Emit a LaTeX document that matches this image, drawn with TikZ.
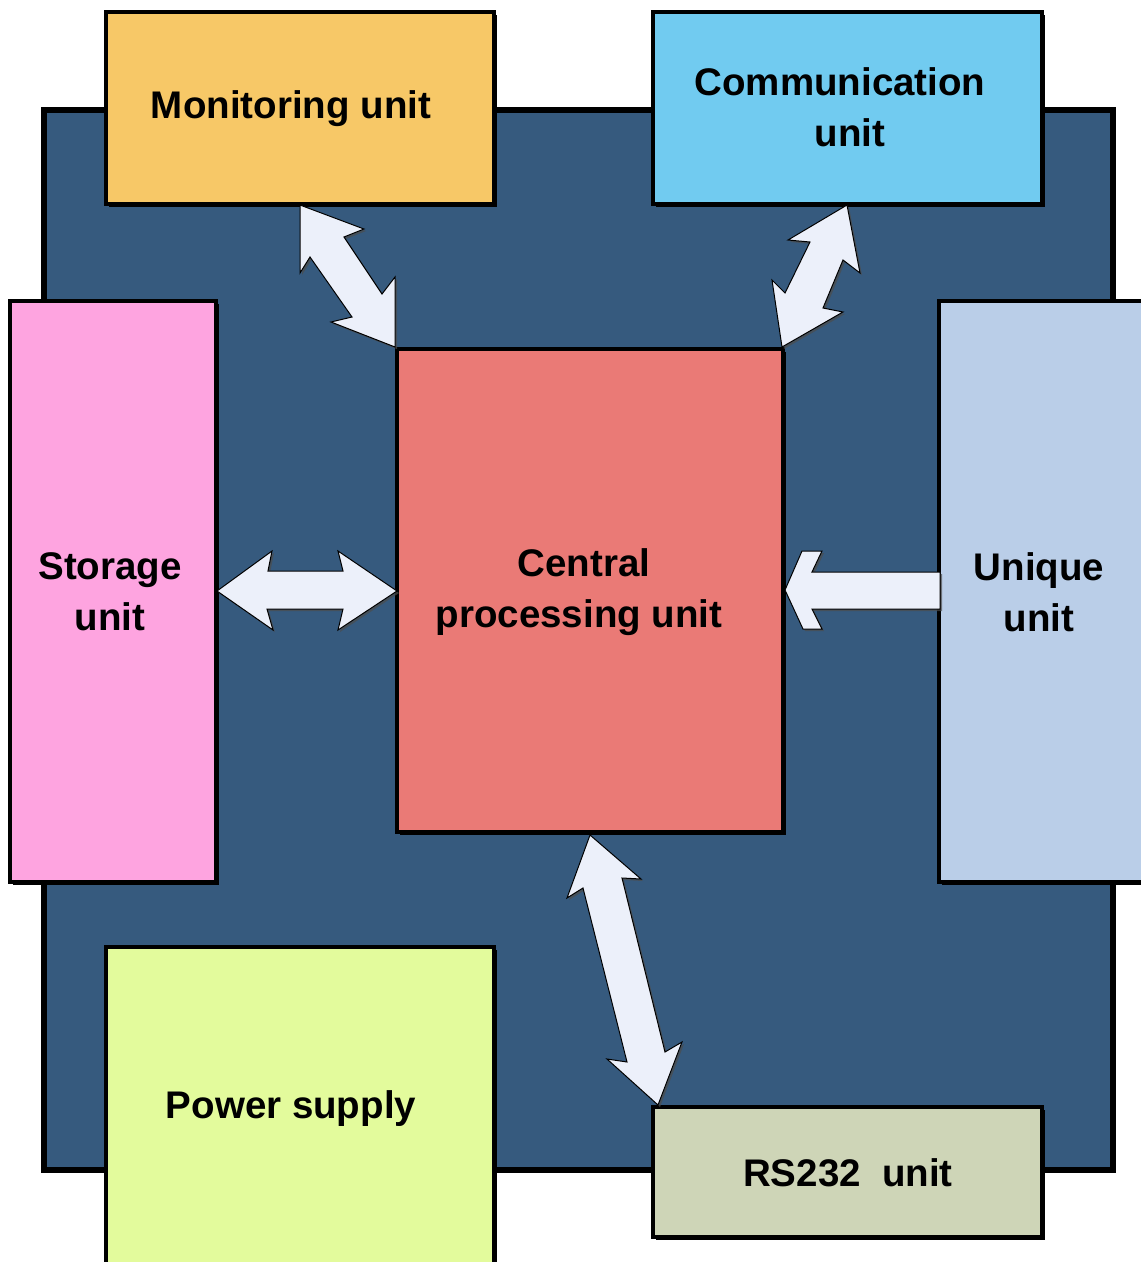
\documentclass[tikz,border=0pt]{standalone}
\usepackage{fontspec}
\setmainfont{Liberation Sans}
\usetikzlibrary{shadows}
\definecolor{bgblue}{HTML}{365A7E}
\definecolor{moncol}{HTML}{F7C867}
\definecolor{comcol}{HTML}{71CBF0}
\definecolor{stocol}{HTML}{FEA4E0}
\definecolor{cpucol}{HTML}{EA7A76}
\definecolor{unicol}{HTML}{BACEE8}
\definecolor{powcol}{HTML}{E3FB9C}
\definecolor{rscol}{HTML}{CED5B7}
\definecolor{arrcol}{HTML}{ECF0FA}
\begin{document}
\begin{tikzpicture}[x=1pt,y=-1pt,
  unitbox/.style={draw=black, line width=3.5pt, anchor=north west, inner sep=0pt, outer sep=0pt,
    drop shadow={shadow xshift=2.5pt, shadow yshift=-2.5pt, opacity=1, fill=black}},
  lbl/.style={font=\bfseries\fontsize{38.5}{51}\selectfont, align=center, inner sep=0pt, text=black},
  blockarrow/.style={fill=arrcol, draw=black, line width=1pt, line join=miter,
    drop shadow={shadow xshift=2pt, shadow yshift=-2pt, opacity=0.7, fill=black!70}}]
\clip (0,0) rectangle (1141,1262);
\fill[white] (0,0) rectangle (1141,1262);
% background panel
\node[draw=black, line width=6pt, fill=bgblue, anchor=north west, inner sep=0pt, outer sep=0pt,
  minimum width=1069pt, minimum height=1060pt] (panel) at (43.5,110) {};
% unit boxes
\node[unitbox, fill=moncol, minimum width=388pt, minimum height=192pt] (mon) at (106,12) {};
\node[unitbox, fill=comcol, minimum width=389pt, minimum height=192pt] (com) at (653,12) {};
\node[unitbox, fill=stocol, minimum width=206pt, minimum height=581pt] (sto) at (10,301) {};
\node[unitbox, fill=cpucol, minimum width=386pt, minimum height=483pt] (cpu) at (397,349) {};
\node[unitbox, fill=unicol, minimum width=220pt, minimum height=581pt] (uni) at (939,301) {};
\node[unitbox, fill=powcol, minimum width=388pt, minimum height=340pt] (pow) at (106,947) {};
\node[unitbox, fill=rscol, minimum width=389pt, minimum height=130pt] (rs) at (653,1107) {};
% labels
\node[lbl] (monl) at (291,109) {Monitoring unit};
\node[lbl] (coml) at (840,107) {Communication\\\hspace*{20pt}unit};
\node[lbl] (stol) at (110,592) {Storage\\unit};
\node[lbl] (cpul) at (579,592) {\hspace*{10pt}Central\\processing unit};
\node[lbl] (unil) at (1039,592) {Unique\\unit};
\node[lbl] (powl) at (291,1109) {Power supply};
\node[lbl] (rsl) at (848,1173) {RS232\ \ unit};
% block arrows
% monitoring <-> cpu
\draw[blockarrow] (300,205) -- (364,229) -- (344,237) -- (382,294) -- (395,277) -- (395,347)
  -- (331,322) -- (352,317) -- (310,257) -- (300,273) -- cycle;
% communication <-> cpu
\draw[blockarrow] (847,205) -- (860,273) -- (843,260) -- (823,308) -- (843,312) -- (782,347)
  -- (772,280) -- (785,293) -- (810,242) -- (788,240) -- cycle;
% storage <-> cpu
\draw[blockarrow] (217,591) -- (272,551) -- (268,571) -- (343,571) -- (338,551) -- (397,591)
  -- (338,630) -- (343,609) -- (267,609) -- (273,630) -- cycle;
% unique -> cpu
\draw[blockarrow] (785,590) -- (802,551) -- (822,551) -- (812,572) -- (940,572) -- (940,609)
  -- (812,609) -- (822,629) -- (803,629) -- cycle;
% cpu <-> rs232
\draw[blockarrow] (590,835) -- (641,879) -- (622,878) -- (665,1052) -- (682,1042) -- (658,1105)
  -- (607,1059) -- (627,1062) -- (583,888) -- (567,898) -- cycle;
\end{tikzpicture}
\end{document}
